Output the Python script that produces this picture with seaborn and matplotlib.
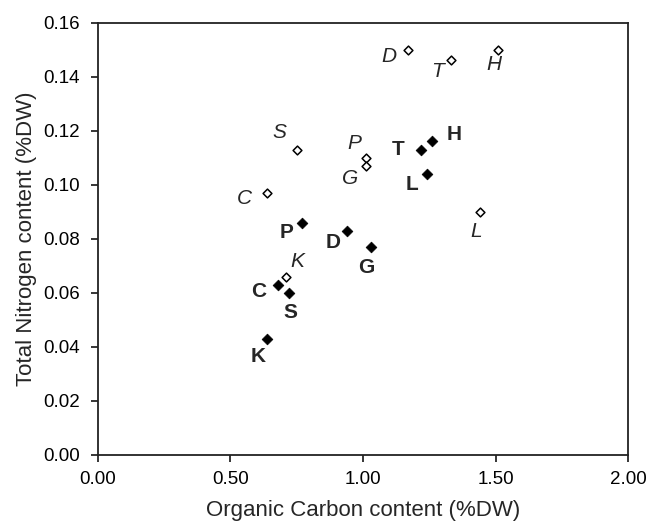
import numpy as np
import pandas as pd
import matplotlib
matplotlib.use("Agg")
import matplotlib.pyplot as plt
import seaborn as sns

# sites (same order for both series)
sites = ["C", "S", "P", "G", "D", "T", "H", "L", "K"]

# open diamonds, italic labels
open_oc = [0.64, 0.75, 1.01, 1.01, 1.17, 1.33, 1.51, 1.44, 0.71]
open_tn = [0.097, 0.113, 0.110, 0.107, 0.150, 0.146, 0.150, 0.090, 0.066]

# filled diamonds, bold labels
filled_oc = [0.68, 0.72, 0.77, 1.03, 0.94, 1.22, 1.26, 1.24, 0.64]
filled_tn = [0.063, 0.060, 0.086, 0.077, 0.083, 0.113, 0.116, 0.104, 0.043]

x_ticks = [0.0, 0.5, 1.0, 1.5, 2.0]
y_ticks = [0.00, 0.02, 0.04, 0.06, 0.08, 0.10, 0.12, 0.14, 0.16]

# label offsets in pixels (dx, dy with dy positive = downwards)
open_off = {"C": (-23, 6), "S": (-17, -17), "P": (-11, -14), "G": (-16, 13),
            "D": (-19, 7), "T": (-13, 11), "H": (-4, 15), "L": (-4, 20), "K": (11, -15)}
filled_off = {"C": (-19, 7), "S": (2, 20), "P": (-15, 10), "G": (-5, 21),
              "D": (-14, 12), "T": (-23, 0), "H": (22, -7), "L": (-15, 11), "K": (-9, 18)}

sns.set_style("ticks")
plt.rcParams["font.family"] = ["Liberation Sans", "DejaVu Sans"]

df_open = pd.DataFrame({"site": sites, "oc": open_oc, "tn": open_tn})
df_fill = pd.DataFrame({"site": sites, "oc": filled_oc, "tn": filled_tn})

fig = plt.figure(figsize=(6.47, 5.27), dpi=100)
ax = fig.add_axes([0.151, 0.137, 0.820, 0.820])

sns.scatterplot(data=df_open, x="oc", y="tn", marker="D", s=20, color="white",
                edgecolor="black", linewidth=1.1, ax=ax, zorder=3)
sns.scatterplot(data=df_fill, x="oc", y="tn", marker="D", s=30, color="black",
                edgecolor="black", linewidth=0.5, ax=ax, zorder=3)

for _, r in df_open.iterrows():
    dx, dy = open_off[r["site"]]
    ax.annotate(r["site"], (r["oc"], r["tn"]), xytext=(dx, -dy), textcoords="offset pixels",
                ha="center", va="center", fontsize=15, fontstyle="italic")
for _, r in df_fill.iterrows():
    dx, dy = filled_off[r["site"]]
    ax.annotate(r["site"], (r["oc"], r["tn"]), xytext=(dx, -dy), textcoords="offset pixels",
                ha="center", va="center", fontsize=15, fontweight="bold")

ax.set_xlim(0, 2.0)
ax.set_ylim(0, 0.16)
ax.set_xticks(x_ticks)
ax.set_yticks(y_ticks)
ax.set_xticklabels([f"{v:.2f}" for v in x_ticks])
ax.set_yticklabels([f"{v:.2f}" for v in y_ticks])
ax.tick_params(axis="both", direction="out", length=5, width=1.1, labelsize=13.5, colors="black")
ax.tick_params(axis="x", pad=7)
ax.tick_params(axis="y", pad=8)
for sp in ax.spines.values():
    sp.set_linewidth(1.3)
    sp.set_color("#222222")

ax.set_xlabel("Organic Carbon content (%DW)", fontsize=16, labelpad=8)
ax.set_ylabel("Total Nitrogen content (%DW)", fontsize=16, labelpad=4.5)

fig.savefig("out.png", dpi=100, facecolor="white")
